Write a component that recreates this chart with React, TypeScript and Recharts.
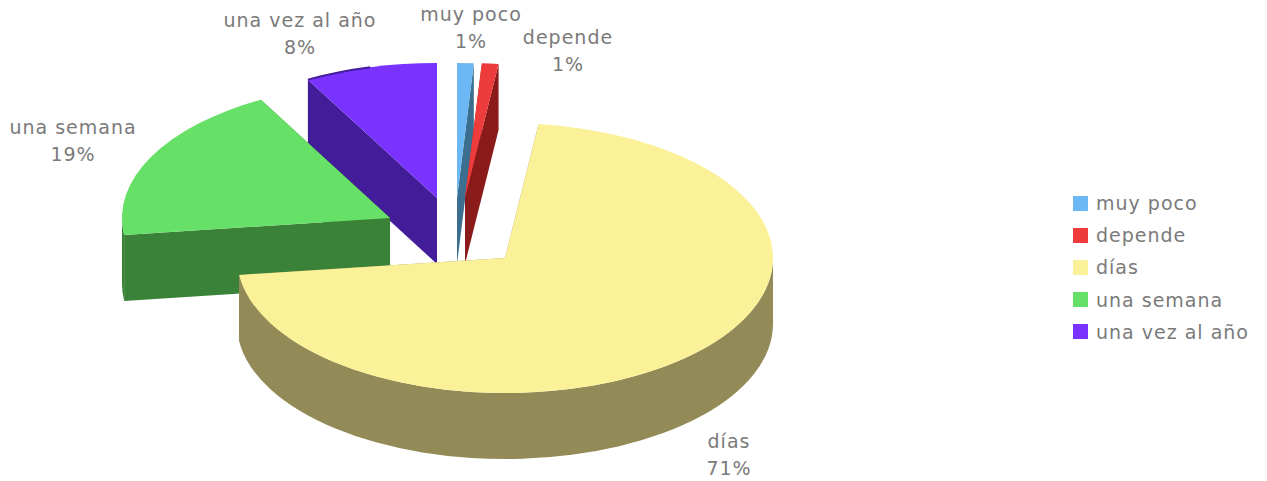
import React from "react";
import { Legend, Pie, PieChart } from "recharts";

const categories = ["muy poco", "depende", "días", "una semana", "una vez al año"];
const shares = [1, 1, 71, 19, 8];

const topColors = ["#6cb8f5", "#ee3b3b", "#fbf198", "#66e066", "#7a33ff"];
const sideColors = ["#3c6e8f", "#8b1a1a", "#938b57", "#3a8238", "#431c9a"];

// back slices first so the big slice sits on top of the others
const paintOrder = [4, 3, 0, 1, 2];

// how far each slice is pulled away from the pie centre
const pullX = [7, 15, 55, -60, -13];
const pullY = [-32, -32, 28, -12, -32];

// part of the slice's arc that shows a dark lip along the back
const backLip = [0, 0, 0, 0, 0.5];

const labelX = [471, 568, 729, 73, 300];
const labelY = [15, 38, 442, 128, 21];

const RADIUS = 268;
const SQUASH = 0.504;
const DEPTH = 66;
const RAD = Math.PI / 180;

const rows = categories.map((name, i) => ({ name, value: shares[i] }));

function rim(cx: number, cy: number, deg: number, drop = 0) {
  return {
    x: cx + RADIUS * Math.cos(deg * RAD),
    y: cy - RADIUS * SQUASH * Math.sin(deg * RAD) + drop,
  };
}

function arcTo(p: { x: number; y: number }, from: number, to: number) {
  const large = Math.abs(from - to) > 180 ? 1 : 0;
  return `A${RADIUS} ${RADIUS * SQUASH} 0 ${large} 1 ${p.x} ${p.y}`;
}

// Flat recharts sector turned into a tilted slice with a visible wall
function Slice3D(props: any) {
  const { cx, cy, startAngle, endAngle, index } = props;
  const x = cx + pullX[index];
  const y = cy + pullY[index];
  const a = rim(x, y, startAngle);
  const b = rim(x, y, endAngle);
  const a2 = rim(x, y, startAngle, DEPTH);
  const b2 = rim(x, y, endAngle, DEPTH);

  const walls = [
    `M${x} ${y}L${a.x} ${a.y}L${a2.x} ${a2.y}L${x} ${y + DEPTH}Z`,
    `M${x} ${y}L${b.x} ${b.y}L${b2.x} ${b2.y}L${x} ${y + DEPTH}Z`,
  ];

  // outer wall only exists on the front half of the rim
  const from = Math.min(startAngle, 0);
  const to = Math.max(endAngle, -180);
  if (from > to) {
    const p = rim(x, y, from);
    const q = rim(x, y, to);
    const p2 = rim(x, y, from, DEPTH);
    const q2 = rim(x, y, to, DEPTH);
    walls.push(
      `M${p.x} ${p.y}${arcTo(q, from, to)}L${q2.x} ${q2.y}A${RADIUS} ${RADIUS * SQUASH} 0 ${
        from - to > 180 ? 1 : 0
      } 0 ${p2.x} ${p2.y}Z`
    );
  }

  const lipEnd = startAngle + (endAngle - startAngle) * backLip[index];

  return (
    <g>
      {walls.map((d, i) => (
        <path key={i} d={d} fill={sideColors[index]} />
      ))}
      <path
        d={`M${x} ${y}L${a.x} ${a.y}${arcTo(b, startAngle, endAngle)}Z`}
        fill={topColors[index]}
      />
      {backLip[index] > 0 && (
        <path
          d={`M${a.x} ${a.y}${arcTo(rim(x, y, lipEnd), startAngle, lipEnd)}`}
          fill="none"
          stroke={sideColors[index]}
          strokeWidth={2}
        />
      )}
    </g>
  );
}

function SliceLabel(props: any) {
  const { index, value, name } = props;
  return (
    <text textAnchor="middle" fontSize={19} letterSpacing={1} fill="#7a7a7a">
      <tspan x={labelX[index]} y={labelY[index] + 6}>
        {name}
      </tspan>
      <tspan x={labelX[index]} dy={27}>
        {value}%
      </tspan>
    </text>
  );
}

function LegendList() {
  return (
    <div style={{ width: 190 }}>
      {categories.map((name, i) => (
        <div key={name} style={{ display: "flex", alignItems: "center", height: 32.2 }}>
          <span style={{ width: 15, height: 15, background: topColors[i], marginRight: 8 }} />
          <span style={{ fontSize: 19, letterSpacing: 1, color: "#7a7a7a", whiteSpace: "nowrap" }}>{name}</span>
        </div>
      ))}
    </div>
  );
}

export default function App() {
  return (
    <div style={{ position: "absolute", left: 0, top: 0, fontFamily: "'DejaVu Sans', sans-serif" }}>
      <PieChart width={1267} height={481} margin={{ top: 0, right: 0, bottom: 0, left: 0 }}>
        {paintOrder.map((layer) => (
          <Pie
            key={layer}
            data={rows}
            dataKey="value"
            nameKey="name"
            cx={450}
            cy={230}
            innerRadius={0}
            outerRadius={RADIUS}
            startAngle={90}
            endAngle={-270}
            stroke="none"
            isAnimationActive={false}
            legendType="none"
            labelLine={false}
            shape={(p: any) => (p.index === layer ? <Slice3D {...p} /> : <g />)}
            label={(p: any) => (p.index === layer ? <SliceLabel {...p} /> : <g />)}
          />
        ))}
        <Legend
          layout="vertical"
          align="right"
          verticalAlign="top"
          wrapperStyle={{ left: 1073, top: 187, right: "auto" }}
          content={() => <LegendList />}
        />
      </PieChart>
    </div>
  );
}
